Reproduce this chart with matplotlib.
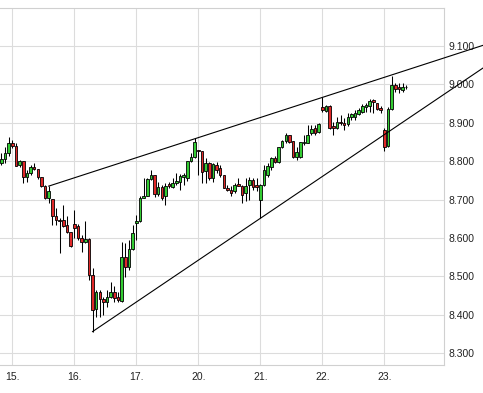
import numpy as np
import matplotlib.pyplot as plt

# half-hour candles: last 3 of the 14th, then 17 per trading day (23rd incomplete)
opens = [8796, 8805, 8822,
         8847, 8840, 8790, 8801, 8758, 8768, 8784, 8779, 8758, 8734, 8703, 8701, 8657, 8646, 8647, 8634, 8616,
         8636, 8631, 8599, 8590, 8597, 8504, 8414, 8458, 8440, 8432, 8447, 8458, 8446, 8437, 8550, 8524, 8571,
         8638, 8645, 8703, 8709, 8753, 8764, 8715, 8732, 8708, 8740, 8732, 8742, 8747, 8759, 8757, 8801, 8812,
         8829, 8827, 8775, 8795, 8756, 8790, 8781, 8764, 8731, 8725, 8721, 8740, 8736, 8716, 8738, 8751, 8738,
         8699, 8738, 8764, 8784, 8808, 8799, 8836, 8853, 8868, 8853, 8810, 8812, 8848, 8848, 8873, 8887, 8877,
         8942, 8931, 8944, 8892, 8887, 8903, 8900, 8897, 8914, 8916, 8923, 8929, 8942, 8944, 8959, 8951, 8938,
         8881, 8840, 8935, 8998, 8992, 8985, 8992]
highs = [8821, 8838, 8862,
         8855, 8847, 8803, 8801, 8777, 8791, 8795, 8779, 8759, 8738, 8735, 8701, 8678, 8652, 8686, 8657, 8616,
         8673, 8636, 8608, 8645, 8599, 8522, 8465, 8465, 8447, 8465, 8486, 8475, 8460, 8590, 8586, 8595, 8634,
         8660, 8708, 8755, 8755, 8777, 8764, 8747, 8738, 8742, 8747, 8755, 8768, 8766, 8768, 8801, 8821, 8860,
         8829, 8827, 8808, 8797, 8795, 8797, 8790, 8764, 8738, 8734, 8742, 8755, 8738, 8755, 8760, 8755, 8755,
         8741, 8790, 8795, 8812, 8814, 8838, 8855, 8874, 8868, 8853, 8838, 8851, 8868, 8894, 8894, 8894, 8899,
         8966, 8946, 8946, 8903, 8914, 8920, 8912, 8926, 8925, 8932, 8938, 8949, 8951, 8961, 8961, 8952, 8944,
         8886, 8940, 9022, 9003, 9004, 9004, 8998]
lows = [8790, 8795, 8814,
        8834, 8787, 8786, 8742, 8747, 8764, 8777, 8753, 8733, 8701, 8692, 8634, 8634, 8562, 8629, 8613, 8577,
        8600, 8595, 8564, 8587, 8491, 8356, 8395, 8395, 8400, 8421, 8443, 8434, 8434, 8434, 8499, 8517, 8569,
        8595, 8642, 8703, 8708, 8751, 8706, 8708, 8699, 8686, 8729, 8729, 8738, 8725, 8738, 8748, 8799, 8809,
        8764, 8742, 8742, 8751, 8747, 8769, 8760, 8729, 8721, 8708, 8716, 8734, 8690, 8695, 8699, 8725, 8721,
        8651, 8734, 8760, 8777, 8796, 8796, 8834, 8847, 8847, 8808, 8803, 8808, 8842, 8847, 8868, 8868, 8873,
        8929, 8928, 8883, 8868, 8883, 8894, 8881, 8892, 8906, 8906, 8920, 8925, 8929, 8929, 8925, 8933, 8925,
        8827, 8838, 8933, 8981, 8977, 8981, 8989]
closes = [8806, 8822, 8848,
          8840, 8788, 8801, 8758, 8770, 8784, 8779, 8758, 8734, 8703, 8723, 8658, 8646, 8645, 8632, 8616, 8579,
          8626, 8599, 8590, 8597, 8504, 8413, 8458, 8440, 8432, 8447, 8458, 8443, 8439, 8550, 8524, 8571, 8612,
          8645, 8703, 8709, 8753, 8764, 8715, 8732, 8703, 8736, 8734, 8742, 8748, 8762, 8764, 8801, 8812, 8851,
          8827, 8773, 8795, 8756, 8792, 8777, 8764, 8731, 8725, 8716, 8738, 8736, 8712, 8734, 8751, 8732, 8732,
          8738, 8777, 8788, 8808, 8799, 8836, 8853, 8868, 8851, 8810, 8825, 8849, 8851, 8868, 8883, 8874, 8897,
          8932, 8944, 8886, 8886, 8903, 8899, 8894, 8916, 8923, 8925, 8932, 8944, 8946, 8958, 8955, 8935, 8933,
          8838, 8935, 8998, 8987, 8987, 8992, 8994]

day_labels = ['15.', '16.', '17.', '20.', '21.', '22.', '23.']
day_start = [3, 20, 37, 54, 71, 88, 105]   # candle index of each day's first bar
price_ticks = list(range(8300, 9200, 100))

# trendlines, each through two candle extremes (index, price)
upper_pts = [(13, 8735), (88, 8966)]
lower_pts = [(25, 8356), (71, 8651)]

o = np.array(opens)
h = np.array(highs)
l = np.array(lows)
c = np.array(closes)
x = np.arange(len(o))

fig = plt.figure(figsize=(4.83, 3.93), dpi=100)
ax = fig.add_axes([0, 28 / 393, 444 / 483, (365 - 7.6) / 393])

up = c >= o
colors = np.where(up, '#33cc33', '#e02828')
body_lo = np.minimum(o, c)
body_h = np.maximum(np.abs(c - o), 1)

ax.vlines(x, l, h, color='black', linewidth=0.75, zorder=2)
ax.bar(x, body_h, bottom=body_lo, width=0.72, color=colors,
       edgecolor='black', linewidth=0.6, zorder=3)

# trendlines run past the price axis up to the picture edge
x_end = 133
for (x0, p0), (x1, p1) in [upper_pts, lower_pts]:
    slope = (p1 - p0) / (x1 - x0)
    ax.plot([x0, x_end], [p0, p0 + slope * (x_end - x0)], color='black',
            linewidth=0.8, zorder=4, clip_on=False)

ax.set_xlim(-0.37, 121.37)
ax.set_ylim(8269, 9200)

ax.set_xticks(day_start)
ax.set_xticklabels(day_labels)
ax.set_yticks(price_ticks)
ax.set_yticklabels([f'{p:,}'.replace(',', '.') for p in price_ticks])
ax.yaxis.tick_right()

ax.grid(True, color='#dcdcdc', linewidth=0.8, zorder=0)
ax.set_axisbelow(True)
for side in ['top', 'right', 'bottom']:
    ax.spines[side].set_color('#d0d0d0')
    ax.spines[side].set_linewidth(0.8)
ax.spines['left'].set_visible(False)

ax.tick_params(axis='y', length=0, pad=3.5, labelsize=7.5, colors='#222222')
ax.tick_params(axis='x', length=0, pad=5, labelsize=7.5, colors='#222222')
for lab in ax.get_xticklabels() + ax.get_yticklabels():
    lab.set_fontfamily('Liberation Sans')

fig.savefig('out.png', dpi=100)
